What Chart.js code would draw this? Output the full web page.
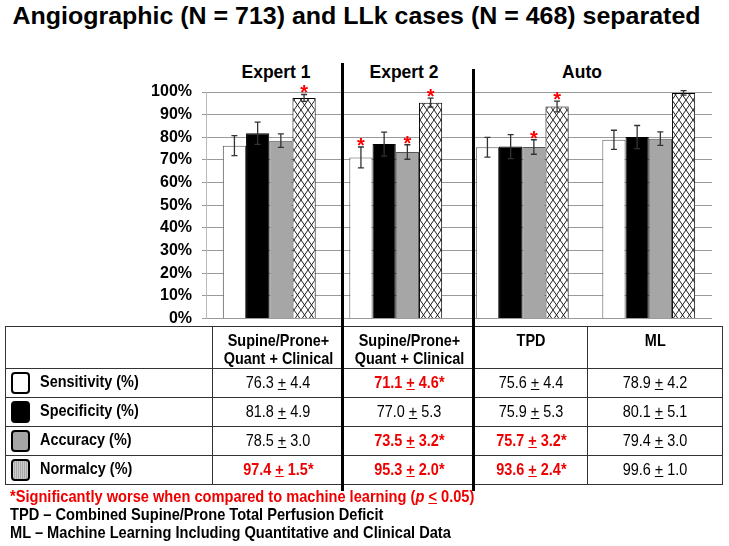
<!DOCTYPE html>
<html lang="en">
<head>
<meta charset="UTF-8">
<title>Angiographic and LLk cases</title>
<script src="https://cdn.jsdelivr.net/npm/chart.js"></script>
<style>
  body { margin: 0; background: #fff; font-family: "Liberation Sans", Arial, sans-serif; }
  .page { position: relative; width: 729px; height: 546px; overflow: hidden; }
  .title { position: absolute; left: -8px; width: 729px; top: 2px; text-align: center; font-weight: bold; font-size: 24px; transform: scaleX(1.04); }
  .group { position: absolute; top: 61px; font-weight: bold; font-size: 19px; transform: translateX(-50%) scaleX(0.92); }
  .sep { position: absolute; width: 3px; background: #000; }
  #chartBox { position: absolute; left: 0; top: 40px; }
  table { position: absolute; left: 5px; top: 326px; width: 717px; border-collapse: collapse; table-layout: fixed; }
  td { border: 1px solid #333; padding: 0; text-align: center; font-size: 17px; white-space: nowrap; overflow: visible; }
  .sq { display: inline-block; transform: scaleX(0.85); }
  .lab .sq { transform-origin: left center; }
  .head td { height: 36px; vertical-align: top; font-weight: bold; font-size: 17px; line-height: 18px; padding-top: 5px; }
  .row td { height: 28px; }
  .lab { text-align: left; font-weight: bold; }
  .box { display: inline-block; width: 15px; height: 18px; border: 2px solid #000; border-radius: 4px; vertical-align: middle; margin: 0 10px 0 5px; }
  .red { color: #e00; font-weight: bold; }
  .notes { position: absolute; left: 10px; top: 488px; font-weight: bold; font-size: 17px; line-height: 18px; transform: scaleX(0.86); transform-origin: left top; white-space: nowrap; }
</style>
</head>
<body>
<div class="page">
  <div class="title">Angiographic (N = 713) and LLk cases (N = 468) separated</div>
  <div class="group" style="left:276px">Expert 1</div>
  <div class="group" style="left:404px">Expert 2</div>
  <div class="group" style="left:582px">Auto</div>

  <canvas id="chartBox" width="729" height="298"></canvas>

  <table id="tbl"></table>

  <div class="sep" style="left:341px; top:63px; height:428px"></div>
  <div class="sep" style="left:472px; top:69px; height:422px"></div>

  <div class="notes">
    <div class="red">*Significantly worse when compared to machine learning (<i>p</i> <u>&lt;</u> 0.05)</div>
    <div>TPD &ndash; Combined Supine/Prone Total Perfusion Deficit</div>
    <div>ML &ndash; Machine Learning Including Quantitative and Clinical Data</div>
  </div>
</div>

<script>
// columns (Expert 1, Expert 2, TPD, ML)
const methods = ['Expert 1', 'Expert 2', 'TPD', 'ML'];
const methodHeads = [['Supine/Prone+', 'Quant + Clinical'], ['Supine/Prone+', 'Quant + Clinical'], ['TPD'], ['ML']];
const yTicks = [0, 10, 20, 30, 40, 50, 60, 70, 80, 90, 100];

const metricNames = ['Sensitivity (%)', 'Specificity (%)', 'Accuracy (%)', 'Normalcy (%)'];

const sensitivity = [76.3, 71.1, 75.6, 78.9];
const specificity = [81.8, 77.0, 75.9, 80.1];
const accuracy    = [78.5, 73.5, 75.7, 79.4];
const normalcy    = [97.4, 95.3, 93.6, 99.6];

const sensErr = [4.4, 4.6, 4.4, 4.2];
const specErr = [4.9, 5.3, 5.3, 5.1];
const accErr  = [3.0, 3.2, 3.2, 3.0];
const normErr = [1.5, 2.0, 2.4, 1.0];

// worse than ML (p <= 0.05)
const sensSig = [false, true, false, false];
const specSig = [false, false, false, false];
const accSig  = [false, true, true, false];
const normSig = [true, true, true, false];

const values = [sensitivity, specificity, accuracy, normalcy];
const errors = [sensErr, specErr, accErr, normErr];
const sigs = [sensSig, specSig, accSig, normSig];

// cross hatch for normalcy bars
function hatch() {
  const c = document.createElement('canvas');
  c.width = 7; c.height = 10;
  const g = c.getContext('2d');
  g.fillStyle = '#fff';
  g.fillRect(0, 0, 7, 10);
  g.strokeStyle = '#222';
  g.lineWidth = 1;
  g.beginPath();
  g.moveTo(0, 0); g.lineTo(7, 10);
  g.moveTo(7, 0); g.lineTo(0, 10);
  g.stroke();
  return g.createPattern(c, 'repeat');
}

const errorBars = {
  id: 'errorBars',
  afterDatasetsDraw(chart) {
    const ctx = chart.ctx;
    const y = chart.scales.y;
    ctx.save();
    chart.data.datasets.forEach((ds, di) => {
      chart.getDatasetMeta(di).data.forEach((bar, i) => {
        const v = ds.data[i], e = errors[di][i];
        const top = y.getPixelForValue(v + e);
        const bot = y.getPixelForValue(v - e);
        ctx.strokeStyle = '#333';
        ctx.lineWidth = 1.3;
        ctx.beginPath();
        ctx.moveTo(bar.x, top); ctx.lineTo(bar.x, bot);
        ctx.moveTo(bar.x - 3, top); ctx.lineTo(bar.x + 3, top);
        ctx.moveTo(bar.x - 3, bot); ctx.lineTo(bar.x + 3, bot);
        ctx.stroke();
        if (sigs[di][i]) {
          ctx.fillStyle = '#f00';
          ctx.font = 'bold 20px "Liberation Sans", Arial';
          ctx.textAlign = 'center';
          ctx.textBaseline = 'alphabetic';
          ctx.fillText('*', bar.x, top + 5);
        }
      });
    });
    ctx.restore();
  }
};

new Chart(document.getElementById('chartBox'), {
  type: 'bar',
  data: {
    labels: methods,
    datasets: [
      { label: metricNames[0], data: sensitivity, backgroundColor: '#fff', borderColor: '#555' },
      { label: metricNames[1], data: specificity, backgroundColor: '#000', borderColor: '#000' },
      { label: metricNames[2], data: accuracy, backgroundColor: '#a6a6a6', borderColor: '#555' },
      { label: metricNames[3], data: normalcy, backgroundColor: hatch(), borderColor: '#000' }
    ]
  },
  options: {
    responsive: false,
    animation: false,
    devicePixelRatio: 1,
    layout: { padding: { top: 52, right: 17, bottom: 5 } },
    datasets: { bar: { borderWidth: 1, categoryPercentage: 0.734, barPercentage: 1 } },
    plugins: { legend: { display: false }, tooltip: { enabled: false } },
    scales: {
      x: { display: false, offset: true },
      y: {
        min: 0, max: 100,
        afterFit(scale) { scale.width = 206; },
        afterBuildTicks(scale) { scale.ticks = yTicks.map(v => ({ value: v })); },
        border: { color: '#bbb' },
        grid: { color: '#9a9a9a', tickLength: 4, lineWidth: 1 },
        ticks: {
          padding: 10, color: '#000',
          font: { family: '"Liberation Sans", Arial', size: 16, weight: 'bold' },
          callback: v => v + '%'
        }
      }
    }
  },
  plugins: [errorBars]
});

// table
const tbl = document.getElementById('tbl');
const widths = [207, 131, 131, 113, 135];
let head = '<colgroup>' + widths.map(w => '<col style="width:' + w + 'px">').join('') + '</colgroup>';
head += '<tr class="head"><td></td>';
methodHeads.forEach((h) => {
  head += '<td><span class="sq">' + h.join('<br>') + '</span></td>';
});
head += '</tr>';
const boxFill = ['#fff', '#000', '#a6a6a6', 'repeating-linear-gradient(90deg,#ccc 0 1px,#aaa 1px 2px)'];
let body = '';
metricNames.forEach((name, k) => {
  body += '<tr class="row"><td class="lab"><span class="box" style="background:' + boxFill[k] + '"></span><span class="sq">' + name + '</span></td>';
  methods.forEach((m, j) => {
    const txt = values[k][j].toFixed(1) + ' <u>+</u> ' + errors[k][j].toFixed(1);
    body += sigs[k][j] ? '<td class="red"><span class="sq">' + txt + '*</span></td>' : '<td><span class="sq">' + txt + '</span></td>';
  });
  body += '</tr>';
});
tbl.innerHTML = head + body;
</script>
</body>
</html>
